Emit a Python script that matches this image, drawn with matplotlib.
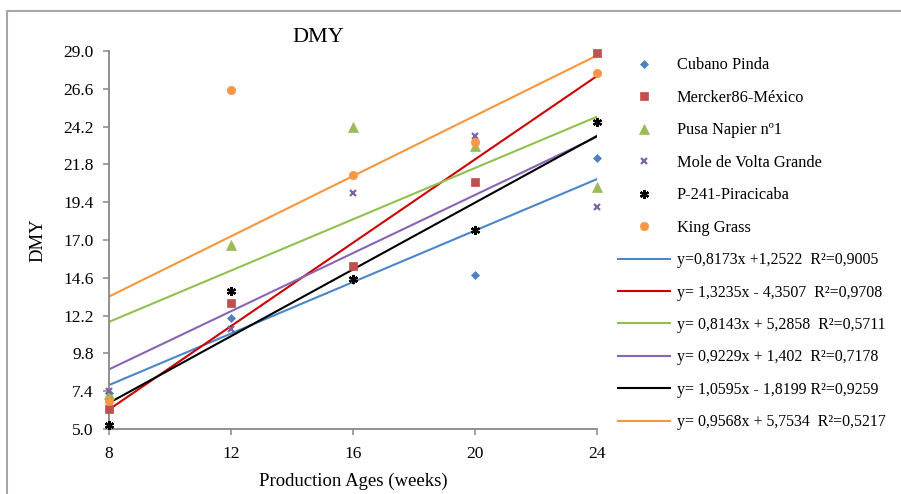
import matplotlib
matplotlib.use("Agg")
import matplotlib.pyplot as plt
from matplotlib.lines import Line2D
import numpy as np

weeks = [8, 12, 16, 20, 24]
series_names = ["Cubano Pinda", "Mercker86-México", "Pusa Napier nº1",
                "Mole de Volta Grande", "P-241-Piracicaba", "King Grass"]
cubano = [7.3, 12.07, 14.45, 14.8, 22.19]
mercker = [6.25, 12.98, 15.37, 20.66, 28.9]
pusa = [7.22, 16.68, 24.2, 22.99, 20.35]
mole = [7.4, 11.33, 19.96, 23.6, 19.11]
p241 = [5.25, 13.76, 14.5, 17.63, 24.47]
king = [6.8, 26.54, 21.13, 23.24, 27.58]

slopes = [0.8173, 1.3235, 0.8143, 0.9229, 1.0595, 0.9568]
intercepts = [1.2522, -4.3507, 5.2858, 1.402, -1.8199, 5.7534]
trend_labels = ["y=0,8173x +1,2522  R²=0,9005",
                "y= 1,3235x - 4,3507  R²=0,9708",
                "y= 0,8143x + 5,2858  R²=0,5711",
                "y= 0,9229x + 1,402  R²=0,7178",
                "y= 1,0595x - 1,8199 R²=0,9259",
                "y= 0,9568x + 5,7534  R²=0,5217"]
yticks = [5.0, 7.4, 9.8, 12.2, 14.6, 17.0, 19.4, 21.8, 24.2, 26.6, 29.0]

plt.rcParams['font.family'] = ['Liberation Serif', 'DejaVu Serif']

W, H = 901, 494
fig = plt.figure(figsize=(W/100, H/100), dpi=100)
ax = fig.add_axes([109/W, 1-429/H, 488/W, 378/H])

data = [cubano, mercker, pusa, mole, p241, king]
mcolors = ['#4F81BD', '#C0504D', '#9BBB59', '#8064A2', '#000000', '#F79646']
markers = ['D', 's', '^', 'x', (6, 2, 0), 'o']
msizes = [4.5, 6, 6.5, 5, 6.5, 6]
lcolors = ['#4A86C8', '#CC0000', '#92C050', '#8A64B4', '#000000', '#F9963C']

handles = []
for vals, c, m, ms, name in zip(data, mcolors, markers, msizes, series_names):
    mew = 1.6 if m in ('x',) or isinstance(m, tuple) else 0.5
    ax.plot(weeks, vals, linestyle='none', marker=m, color=c, ms=ms,
            mew=mew, mec=c, zorder=3, clip_on=False)
    handles.append(Line2D([], [], linestyle='none', marker=m, color=c,
                          ms=ms, mew=mew, mec=c, label=name))

xs = np.array([weeks[0], weeks[-1]])
for a, b, c, lab in zip(slopes, intercepts, lcolors, trend_labels):
    ax.plot(xs, a*xs + b, color=c, lw=1.5, zorder=2)
    handles.append(Line2D([], [], color=c, lw=1.5, label=lab))

ax.set_xlim(8, 24)
ax.set_ylim(5, 29)
ax.set_xticks(weeks)
ax.set_yticks(yticks)
ax.set_yticklabels([f"{v:.1f}" for v in yticks])
for s in ['top', 'right']:
    ax.spines[s].set_visible(False)
for s in ['left', 'bottom']:
    ax.spines[s].set_color('#888888')
    ax.spines[s].set_linewidth(1.3)
ax.tick_params(axis='both', direction='out', length=4, width=1.1,
               color='#888888', labelsize=12.5)
ax.tick_params(axis='y', pad=7)
ax.tick_params(axis='x', pad=8)
ax.set_xlabel("Production Ages (weeks)", fontsize=13.5, labelpad=8)
ax.set_ylabel("DMY", fontsize=13.5, labelpad=12)

fig.text(318/W, 1-38/H, "DMY", fontsize=16, ha='center', va='center')

leg = fig.legend(handles=handles, loc='upper left',
                 bbox_to_anchor=(612/W, 1-51/H), frameon=False,
                 fontsize=11.5, handlelength=3.26, handletextpad=0.38,
                 labelspacing=1.03, borderaxespad=0)
for t in leg.get_texts()[:6]:
    t.set_fontsize(11.8)
for t in leg.get_texts()[6:]:
    t.set_fontsize(11.4)

# outer chart border (top and left)
fig.add_artist(Line2D([7/W, 7/W, 1], [0, 1-11/H, 1-11/H],
                      transform=fig.transFigure, color='#A6A6A6', lw=1.5))

fig.savefig("out.png", dpi=100)
